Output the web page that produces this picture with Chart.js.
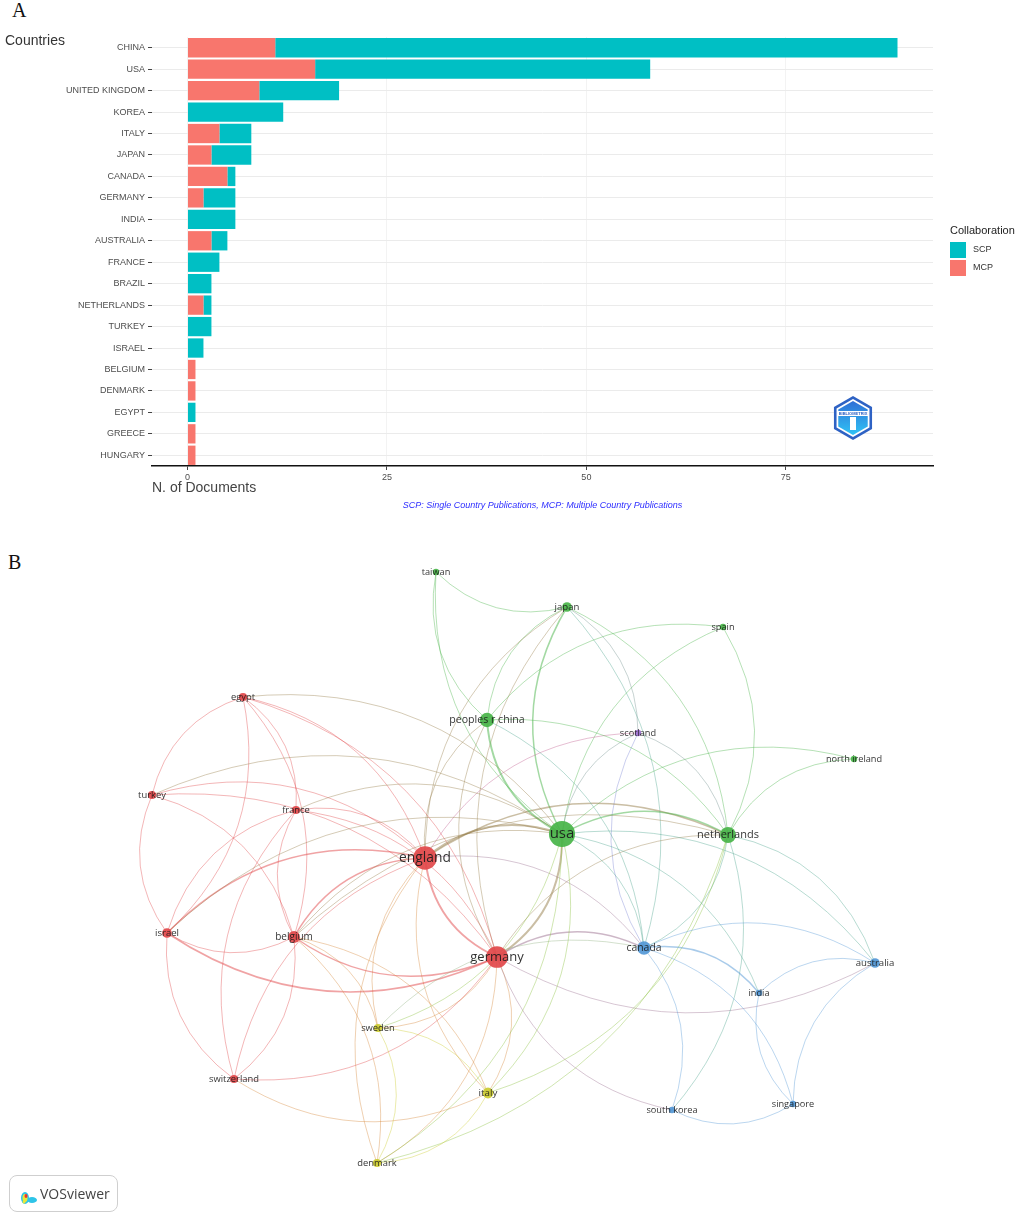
<!DOCTYPE html>
<html>
<head>
<meta charset="utf-8">
<script src="https://cdn.jsdelivr.net/npm/chart.js@4.4.1/dist/chart.umd.min.js"></script>
<style>
  body { margin: 0; background: #fff; }
  #wrap { position: relative; width: 1017px; height: 1214px; overflow: hidden; }
  canvas { position: absolute; left: 0; }
  .panel-label { position: absolute; font: 20px "Liberation Serif", "Times New Roman", serif; color: #111; }
  #vos { position: absolute; left: 9px; top: 1175px; width: 107px; height: 35px; border: 1px solid #cfcfcf; border-radius: 8px;
         font: 14px "Open Sans", sans-serif; color: #444; }
  #vos span { position: absolute; left: 30px; top: 8px; }
  #vos svg { position: absolute; left: 9px; top: 7px; }
</style>
</head>
<body>
<div id="wrap">
  <div class="panel-label" style="left:12px;top:-1px">A</div>
  <canvas id="chartA" width="1017" height="520" style="top:0"></canvas>
  <div class="panel-label" style="left:8px;top:551px">B</div>
  <canvas id="chartB" width="1017" height="674" style="top:540px"></canvas>
  <div id="vos">
    <svg width="20" height="22" viewBox="0 0 20 22">
      <ellipse cx="6" cy="15" rx="4" ry="6" fill="#2ec4e8"/>
      <ellipse cx="13" cy="17" rx="5" ry="3" fill="#2ec4e8"/>
      <ellipse cx="6" cy="15" rx="2.5" ry="4" fill="#e8e83a"/>
      <ellipse cx="7" cy="13" rx="1.5" ry="2" fill="#e33"/>
      <ellipse cx="5" cy="19" rx="1.5" ry="1.5" fill="#e8e83a"/>
    </svg>
    <span>VOSviewer</span>
  </div>
</div>
<script>
// ---------- Panel A data ----------
const countries = ['CHINA', 'USA', 'UNITED KINGDOM', 'KOREA', 'ITALY', 'JAPAN', 'CANADA', 'GERMANY', 'INDIA', 'AUSTRALIA',
  'FRANCE', 'BRAZIL', 'NETHERLANDS', 'TURKEY', 'ISRAEL', 'BELGIUM', 'DENMARK', 'EGYPT', 'GREECE', 'HUNGARY'];
const scpValues = [78, 42, 10, 12, 4, 5, 1, 4, 6, 2, 4, 3, 1, 3, 2, 0, 0, 1, 0, 0];
const mcpValues = [11, 16, 9, 0, 4, 3, 5, 2, 0, 3, 0, 0, 2, 0, 0, 1, 1, 0, 1, 1];
const xTicks = [0, 25, 50, 75];
const captionText = 'SCP: Single Country Publications, MCP: Multiple Country Publications';

// ---------- Panel B data ----------
const nodeNames = ['taiwan', 'japan', 'spain', 'egypt', 'peoples r china', 'scotland', 'north ireland', 'turkey', 'france', 'usa',
  'netherlands', 'england', 'israel', 'belgium', 'germany', 'canada', 'australia', 'india', 'sweden', 'switzerland',
  'italy', 'south korea', 'singapore', 'denmark'];
const nodeX = [-1.24, 0.07, 1.63, -3.17, -0.73, 0.78, 2.94, -4.08, -2.64, 0.02, 1.68, -1.35, -3.93, -2.66, -0.63, 0.84, 3.15, 1.99,
  -1.82, -3.26, -0.72, 1.12, 2.33, -1.83];
const nodeY = [2.63, 2.28, 2.08, 1.38, 1.15, 1.02, 0.76, 0.40, 0.25, 0.01, 0.00, -0.23, -0.98, -1.02, -1.22, -1.13, -1.28, -1.58,
  -1.93, -2.44, -2.58, -2.75, -2.69, -3.28];
const nodeWeight = [1, 3, 1, 2, 8, 1, 1, 2, 2, 30, 10, 24, 3, 5, 20, 7, 3, 1, 2, 2, 4, 1, 1, 2];
const nodeCluster = [2, 2, 2, 1, 2, 5, 2, 1, 1, 2, 2, 1, 1, 1, 1, 3, 3, 3, 4, 1, 4, 3, 3, 4];
// [from, to, strength]; arcs bend clockwise going from "from" to "to"
const links = [
  ['japan', 'taiwan', 1], ['peoples r china', 'taiwan', 1], ['usa', 'taiwan', 1],
  ['peoples r china', 'japan', 1], ['usa', 'japan', 2], ['japan', 'netherlands', 1], ['japan', 'canada', 1],
  ['england', 'japan', 1], ['germany', 'japan', 1], ['japan', 'scotland', 1],
  ['peoples r china', 'spain', 1], ['usa', 'spain', 1], ['spain', 'netherlands', 1],
  ['netherlands', 'north ireland', 1], ['usa', 'north ireland', 1],
  ['england', 'scotland', 1], ['canada', 'scotland', 1], ['scotland', 'netherlands', 1], ['usa', 'scotland', 1],
  ['turkey', 'egypt', 1], ['egypt', 'israel', 1], ['egypt', 'france', 1], ['egypt', 'england', 1], ['egypt', 'belgium', 1],
  ['egypt', 'germany', 1], ['egypt', 'usa', 1],
  ['israel', 'turkey', 1], ['turkey', 'england', 1], ['turkey', 'usa', 1], ['turkey', 'germany', 1], ['turkey', 'belgium', 1],
  ['france', 'england', 1], ['france', 'germany', 1], ['france', 'usa', 1], ['israel', 'france', 1], ['switzerland', 'france', 1],
  ['belgium', 'france', 1],
  ['england', 'usa', 3], ['germany', 'england', 3], ['england', 'netherlands', 2], ['england', 'peoples r china', 1],
  ['england', 'canada', 1], ['belgium', 'england', 2], ['israel', 'england', 2], ['italy', 'england', 1], ['sweden', 'england', 1],
  ['denmark', 'england', 1], ['switzerland', 'england', 1],
  ['usa', 'germany', 3], ['germany', 'israel', 2], ['germany', 'belgium', 2], ['germany', 'italy', 1], ['germany', 'denmark', 1],
  ['germany', 'sweden', 1], ['germany', 'switzerland', 1], ['germany', 'canada', 2], ['germany', 'netherlands', 1],
  ['germany', 'peoples r china', 1], ['australia', 'germany', 1], ['south korea', 'germany', 1],
  ['usa', 'peoples r china', 3], ['usa', 'netherlands', 2], ['usa', 'canada', 1], ['usa', 'italy', 1], ['usa', 'denmark', 1],
  ['usa', 'australia', 1], ['usa', 'sweden', 1], ['israel', 'usa', 1], ['belgium', 'usa', 1], ['usa', 'india', 1],
  ['netherlands', 'canada', 1], ['netherlands', 'australia', 1], ['netherlands', 'denmark', 1], ['netherlands', 'italy', 1],
  ['belgium', 'netherlands', 1], ['netherlands', 'south korea', 1], ['peoples r china', 'netherlands', 1],
  ['peoples r china', 'canada', 1],
  ['canada', 'australia', 1], ['canada', 'india', 2], ['canada', 'south korea', 1], ['canada', 'singapore', 1],
  ['india', 'australia', 1], ['singapore', 'australia', 1], ['singapore', 'india', 1], ['singapore', 'south korea', 1],
  ['sweden', 'italy', 1], ['sweden', 'denmark', 1], ['belgium', 'sweden', 1], ['sweden', 'canada', 1],
  ['italy', 'denmark', 1], ['belgium', 'italy', 1], ['italy', 'switzerland', 1],
  ['belgium', 'denmark', 1], ['belgium', 'israel', 1], ['switzerland', 'israel', 1], ['belgium', 'switzerland', 1]
];

// ---------- styles ----------
Chart.defaults.font.family = '"Liberation Sans", Arial, sans-serif';
const SCP_COLOR = '#00BFC4';
const MCP_COLOR = '#F8766D';
const clusterRGB = {1: [226, 72, 74], 2: [72, 180, 72], 3: [84, 152, 214], 4: [204, 204, 48], 5: [160, 112, 212]};

// ---------- Panel A ----------
const panelAExtras = {
  id: 'panelAExtras',
  afterDraw(chart) {
    const {ctx, chartArea} = chart;
    ctx.save();
    ctx.textBaseline = 'middle';
    ctx.fillStyle = '#333';
    ctx.font = '14px "Liberation Sans", Arial, sans-serif';
    ctx.fillText('Countries', 5, 41);

    // legend (SCP on top like ggplot)
    ctx.fillStyle = '#222';
    ctx.font = '11px "Liberation Sans", Arial, sans-serif';
    ctx.fillText('Collaboration', 950, 231);
    const items = chart.data.datasets.slice().reverse();
    ctx.font = '9px "Liberation Sans", Arial, sans-serif';
    items.forEach((ds, i) => {
      const y = 242 + i * 18;
      ctx.fillStyle = ds.backgroundColor;
      ctx.fillRect(950, y, 16, 16);
      ctx.fillStyle = '#333';
      ctx.fillText(ds.label, 973, y + 8);
    });

    // caption
    ctx.fillStyle = '#2f2fff';
    ctx.font = 'italic 9px "Liberation Sans", Arial, sans-serif';
    ctx.textAlign = 'center';
    ctx.fillText(captionText, (chartArea.left + chartArea.right) / 2, 505);

    // bibliometrix badge
    const cx = 853, cy = 418;
    const hex = (r) => {
      ctx.beginPath();
      for (let k = 0; k < 6; k++) {
        const a = -Math.PI / 2 + k * Math.PI / 3;
        const px = cx + r * Math.cos(a), py = cy + r * Math.sin(a);
        k === 0 ? ctx.moveTo(px, py) : ctx.lineTo(px, py);
      }
      ctx.closePath();
    };
    hex(22);
    ctx.fillStyle = '#2e62c4';
    ctx.fill();
    hex(19);
    ctx.fillStyle = '#fff';
    ctx.fill();
    hex(17);
    const g = ctx.createLinearGradient(cx, cy - 17, cx, cy + 17);
    g.addColorStop(0, '#2f6fd6');
    g.addColorStop(1, '#2fc3f5');
    ctx.fillStyle = g;
    ctx.fill();
    ctx.fillStyle = '#fff';
    ctx.fillRect(cx - 15, cy - 7, 30, 5);
    ctx.fillRect(cx - 3, cy - 1, 6, 13);
    ctx.fillStyle = '#2e62c4';
    ctx.font = 'bold 4px "Liberation Sans", Arial, sans-serif';
    ctx.fillText('BIBLIOMETRIX', cx, cy - 4.5);
    ctx.restore();
  }
};

new Chart(document.getElementById('chartA'), {
  type: 'bar',
  data: {
    labels: countries,
    datasets: [
      {label: 'MCP', data: mcpValues, backgroundColor: MCP_COLOR, barPercentage: 0.9, categoryPercentage: 1},
      {label: 'SCP', data: scpValues, backgroundColor: SCP_COLOR, barPercentage: 0.9, categoryPercentage: 1}
    ]
  },
  options: {
    indexAxis: 'y',
    responsive: false,
    animation: false,
    layout: {padding: {left: 0, right: 84, top: 37, bottom: 20}},
    plugins: {legend: {display: false}, tooltip: {enabled: false}},
    scales: {
      x: {
        stacked: true,
        min: -4.45,
        max: 93.45,
        afterBuildTicks: (s) => { s.ticks = xTicks.map(v => ({value: v})); },
        afterFit: (s) => { s.height = 34; },
        grid: {color: '#f3f3f3', tickColor: '#444', tickLength: 4},
        border: {display: true, color: '#111', width: 1.5},
        ticks: {color: '#4d4d4d', font: {size: 9}, padding: 2, maxRotation: 0},
        title: {display: true, text: 'N. of Documents', align: 'start', color: '#444',
          font: {size: 14}, padding: {top: 0, bottom: 3}}
      },
      y: {
        stacked: true,
        afterFit: (s) => { s.width = 152; },
        grid: {color: '#ebebeb', tickColor: '#444', tickLength: 4, offset: false},
        border: {display: false},
        ticks: {color: '#4d4d4d', font: {size: 9}, padding: 3}
      }
    }
  },
  plugins: [panelAExtras]
});

// ---------- Panel B ----------
const idx = (name) => nodeNames.indexOf(name);
const rgba = (c, a) => `rgba(${c[0]},${c[1]},${c[2]},${a})`;

const networkEdges = {
  id: 'networkEdges',
  beforeDatasetsDraw(chart) {
    const {ctx, scales: {x, y}} = chart;
    ctx.save();
    ctx.lineCap = 'round';
    links.forEach(([from, to, w]) => {
      const a = idx(from), b = idx(to);
      const ax = x.getPixelForValue(nodeX[a]), ay = y.getPixelForValue(nodeY[a]);
      const bx = x.getPixelForValue(nodeX[b]), by = y.getPixelForValue(nodeY[b]);
      const dx = bx - ax, dy = by - ay;
      const bend = 0.28;
      const cx = (ax + bx) / 2 + dy * bend, cy = (ay + by) / 2 - dx * bend;
      const ca = clusterRGB[nodeCluster[a]], cb = clusterRGB[nodeCluster[b]];
      const mix = [0, 1, 2].map(k => Math.round((ca[k] + cb[k]) / 2));
      ctx.strokeStyle = rgba(mix, w === 1 ? 0.4 : 0.5);
      ctx.lineWidth = w === 3 ? 2 : (w === 2 ? 1.5 : 1);
      ctx.beginPath();
      ctx.moveTo(ax, ay);
      ctx.quadraticCurveTo(cx, cy, bx, by);
      ctx.stroke();
    });
    ctx.restore();
  },
  afterDatasetsDraw(chart) {
    const {ctx} = chart;
    const meta = chart.getDatasetMeta(0);
    ctx.save();
    ctx.textAlign = 'center';
    ctx.textBaseline = 'middle';
    ctx.fillStyle = 'rgba(25,25,25,0.9)';
    meta.data.forEach((pt, i) => {
      const size = 9 + 0.2 * nodeWeight[i];
      ctx.font = `${size.toFixed(1)}px "Open Sans", sans-serif`;
      ctx.fillText(nodeNames[i], pt.x, pt.y);
    });
    ctx.restore();
  }
};

new Chart(document.getElementById('chartB'), {
  type: 'bubble',
  data: {
    datasets: [{
      label: 'countries',
      data: nodeNames.map((n, i) => ({x: nodeX[i], y: nodeY[i], r: 1 + 2.2 * Math.sqrt(nodeWeight[i])})),
      backgroundColor: nodeCluster.map(c => rgba(clusterRGB[c], 0.92)),
      borderWidth: 0,
      clip: false
    }]
  },
  options: {
    responsive: false,
    animation: false,
    layout: {padding: 0, autoPadding: false},
    plugins: {legend: {display: false}, tooltip: {enabled: false}},
    scales: {
      x: {type: 'linear', display: false, min: -5.6, max: 4.57},
      y: {type: 'linear', display: false, min: -3.79, max: 2.95}
    }
  },
  plugins: [networkEdges]
});
</script>
</body>
</html>
